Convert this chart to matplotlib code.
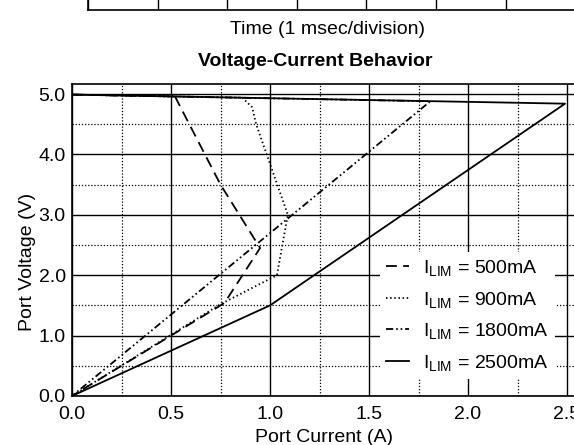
import matplotlib
matplotlib.use("Agg")
import matplotlib.pyplot as plt
from matplotlib.ticker import MultipleLocator

plt.rcParams['font.family'] = ['Liberation Sans', 'DejaVu Sans']
plt.rcParams['mathtext.fontset'] = 'custom'
plt.rcParams['mathtext.rm'] = 'Liberation Sans'
plt.rcParams['mathtext.it'] = 'Liberation Sans:italic'
plt.rcParams['mathtext.bf'] = 'Liberation Sans:bold'

# ---- data ----
labels = ['I$_{\\mathrm{LIM}}$ = 500mA', 'I$_{\\mathrm{LIM}}$ = 900mA',
          'I$_{\\mathrm{LIM}}$ = 1800mA', 'I$_{\\mathrm{LIM}}$ = 2500mA']

i_500 = [0.0, 0.52, 0.75, 0.95, 0.77, 0.0]
v_500 = [4.99, 4.96, 3.50, 2.45, 1.54, 0.0]

i_900 = [0.0, 0.86, 0.91, 0.93, 1.09, 1.035, 0.75, 0.0]
v_900 = [4.99, 4.94, 4.78, 4.50, 3.00, 2.00, 1.52, 0.0]

i_1800 = [0.0, 1.81, 0.0]
v_1800 = [4.99, 4.88, 0.0]

i_2500 = [0.0, 0.5, 1.0, 1.5, 2.0, 2.49, 1.0, 0.0]
v_2500 = [4.99, 4.96, 4.93, 4.90, 4.87, 4.84, 1.50, 0.0]

x_ticks = [0.0, 0.5, 1.0, 1.5, 2.0, 2.5]
y_ticks = [0.0, 1.0, 2.0, 3.0, 4.0, 5.0]
time_divisions = list(range(9))

W, H = 574, 445
fig = plt.figure(figsize=(W / 100, H / 100), dpi=100)

def fx(px):
    return px / W

def fy(py):
    return 1 - py / H

FS = 14

# ---- partial top chart (cut off) ----
axt = fig.add_axes([fx(88), fy(9.5), fx(8 * 69.6), 0.2])
axt.set_xlim(0, 8)
axt.set_ylim(0, 1)
axt.set_xticks(time_divisions)
axt.set_yticks([])
axt.tick_params(axis='x', length=0, labelbottom=False)
axt.grid(True, axis='x', color='black', lw=1.0)
for s in ['top', 'right']:
    axt.spines[s].set_visible(False)
for s in ['left', 'bottom']:
    axt.spines[s].set_linewidth(1.2)

fig.text(fx(327), fy(34.3), 'Time (1 msec/division)', ha='center', va='baseline', fontsize=FS)
fig.text(fx(315), fy(65.7), 'Voltage-Current Behavior', ha='center', va='baseline',
         fontsize=FS, fontweight='bold')

# ---- main chart ----
left, right, top, bottom = 72, 578, 83.5, 396
ax = fig.add_axes([fx(left), fy(bottom), fx(right - left), (bottom - top) / H])
ax.set_xlim(0, (right - left) / 198.0)
ax.set_ylim(0, 5 + (94 - top) / 60.4)

lw = 1.3
ax.plot(i_500, v_500, color='black', lw=lw, dashes=(6, 3.5), label=labels[0], zorder=3)
ax.plot(i_900, v_900, color='black', lw=lw, dashes=(0.8, 1.5), label=labels[1], zorder=3)
ax.plot(i_1800, v_1800, color='black', lw=lw, dashes=(4, 1.6, 0.9, 1.6, 0.9, 1.6),
        label=labels[2], zorder=3)
ax.plot(i_2500, v_2500, color='black', lw=lw, ls='-', label=labels[3], zorder=3)

ax.set_xticks(x_ticks)
ax.set_xticklabels([f'{v:.1f}' for v in x_ticks])
ax.set_yticks(y_ticks)
ax.set_yticklabels([f'{v:.1f}' for v in y_ticks])
ax.xaxis.set_minor_locator(MultipleLocator(0.25))
ax.yaxis.set_minor_locator(MultipleLocator(0.5))
ax.tick_params(axis='both', which='both', length=0, labelsize=FS)
ax.tick_params(axis='x', pad=7.5)
ax.tick_params(axis='y', pad=4.5)
ax.set_axisbelow(True)
ax.grid(True, which='major', color='black', lw=1.0, ls='-')
ax.grid(True, which='minor', color='black', lw=0.9, ls=(0, (1, 1.5)))
for s in ax.spines.values():
    s.set_linewidth(1.2)
ax.spines['right'].set_visible(False)

ax.set_xlabel('Port Current (A)', fontsize=FS)
ax.xaxis.set_label_coords((323.6 - left) / (right - left), (bottom - 441.5) / (bottom - top))
ax.xaxis.label.set_va('baseline')
ax.set_ylabel('Port Voltage (V)', fontsize=FS)
ax.yaxis.set_label_coords((27 - left) / (right - left), (bottom - 262) / (bottom - top))
ax.yaxis.label.set_va('center')

leg = ax.legend(loc='upper left',
                bbox_to_anchor=((380 - left) / (right - left), (bottom - 252) / (bottom - top)),
                borderaxespad=0, frameon=True, fancybox=False, framealpha=1,
                facecolor='white', edgecolor='none', fontsize=FS,
                handlelength=1.2, handletextpad=0.72, borderpad=0.3, labelspacing=0.6)
leg.set_zorder(5)

fig.savefig('out.png', dpi=100)
